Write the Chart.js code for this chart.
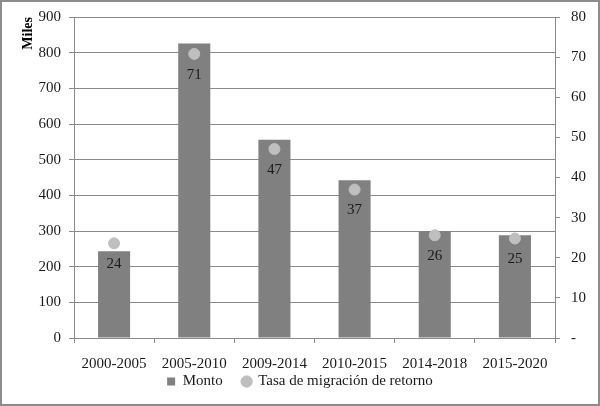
<!DOCTYPE html>
<html>
<head>
  <title>Monto y tasa de migración de retorno</title>
  <script src="https://cdn.jsdelivr.net/npm/chart.js"></script>
  <style>
    body { margin: 0; background: #fff; }
    .wrap { width: 600px; height: 406px; position: relative; }
  </style>
</head>
<body>
<div class="wrap">
  <canvas id="chart" width="600" height="406"></canvas>
</div>

<script>
  // values
  const periods = ['2000-2005', '2005-2010', '2009-2014', '2010-2015', '2014-2018', '2015-2020'];
  const monto = [243, 826, 556, 442, 300, 288];          // miles
  const tasa = [23.6, 70.8, 47.1, 37.0, 25.6, 24.8];      // tasa de migración de retorno
  const leftTicks = [0, 100, 200, 300, 400, 500, 600, 700, 800, 900];
  const rightTicks = [0, 10, 20, 30, 40, 50, 60, 70, 80];

  const serif = 'Liberation Serif, Times New Roman, serif';
  const gridGrey = '#8a8a8a';
  const textCol = '#1a1a1a';

  // white background and grey frame
  const framePlugin = {
    id: 'frame',
    beforeDraw(chart) {
      const ctx = chart.ctx;
      ctx.save();
      ctx.fillStyle = '#fff';
      ctx.fillRect(0, 0, chart.width, chart.height);
      ctx.restore();
    },
    afterDraw(chart) {
      const ctx = chart.ctx;
      ctx.save();
      ctx.strokeStyle = '#8c8c8c';
      ctx.lineWidth = 2;
      ctx.strokeRect(1, 1, chart.width - 2, chart.height - 2);
      ctx.restore();
    }
  };

  // numbers under each point
  const pointLabels = {
    id: 'pointLabels',
    afterDatasetsDraw(chart) {
      const ctx = chart.ctx;
      const meta = chart.getDatasetMeta(1);
      ctx.save();
      ctx.font = '15px ' + serif;
      ctx.fillStyle = textCol;
      ctx.textAlign = 'center';
      ctx.textBaseline = 'middle';
      meta.data.forEach((pt, i) => {
        ctx.fillText(Math.round(tasa[i]), pt.x, pt.y + 21);
      });
      ctx.restore();
    }
  };

  new Chart(document.getElementById('chart'), {
    type: 'bar',
    data: {
      labels: periods,
      datasets: [
        {
          label: 'Monto',
          data: monto,
          backgroundColor: '#808080',
          barPercentage: 0.4,
          categoryPercentage: 1.0,
          yAxisID: 'y',
          pointStyle: 'rect',
          order: 2
        },
        {
          type: 'line',
          label: 'Tasa de migración de retorno',
          data: tasa,
          showLine: false,
          pointRadius: 5.5,
          pointHoverRadius: 5.5,
          pointBackgroundColor: '#bfbfbf',
          pointBorderColor: '#bfbfbf',
          backgroundColor: '#bfbfbf',
          borderColor: '#bfbfbf',
          pointStyle: 'circle',
          yAxisID: 'y1',
          order: 1
        }
      ]
    },
    options: {
      responsive: false,
      animation: false,
      layout: { padding: { top: 0, left: 0, right: 0, bottom: 7 } },
      plugins: {
        legend: {
          position: 'bottom',
          labels: {
            usePointStyle: true,
            boxWidth: 8,
            boxHeight: 8,
            padding: 20,
            color: textCol,
            font: { family: serif, size: 15 },
            sort: (a, b) => a.datasetIndex - b.datasetIndex
          }
        },
        tooltip: { enabled: false }
      },
      scales: {
        x: {
          offset: true,
          // keep the box short so the legend sits close, but don't clip the labels
          afterFit(scale) { scale.height = 16; },
          afterUpdate(scale) { scale._computeLabelArea = () => undefined; },
          grid: {
            offset: true,
            drawOnChartArea: false,
            drawTicks: true,
            tickLength: 5,
            color: gridGrey
          },
          border: { color: gridGrey },
          ticks: {
            padding: 12,
            color: textCol,
            font: { family: serif, size: 15 },
            maxRotation: 0
          }
        },
        y: {
          position: 'left',
          min: 0,
          max: 900,
          afterBuildTicks(scale) {
            scale.ticks = leftTicks.map(v => ({ value: v }));
          },
          afterFit(scale) { scale.width = 74; scale.paddingTop = 17; },
          grid: { color: gridGrey, tickLength: 5, lineWidth: 1 },
          border: { color: gridGrey },
          ticks: {
            padding: 8,
            color: textCol,
            font: { family: serif, size: 15 }
          },
          title: {
            display: true,
            text: 'Miles',
            align: 'end',
            color: '#000',
            padding: { top: 20, bottom: 0 },
            font: { family: serif, size: 14, weight: 'bold' }
          }
        },
        y1: {
          position: 'right',
          min: 0,
          max: 80,
          afterBuildTicks(scale) {
            scale.ticks = rightTicks.map(v => ({ value: v }));
          },
          afterFit(scale) { scale.width = 45; scale.paddingTop = 17; },
          grid: { drawOnChartArea: false, tickLength: 5, color: gridGrey },
          border: { color: gridGrey },
          ticks: {
            padding: 11,
            color: textCol,
            font: { family: serif, size: 15 },
            callback: v => (v === 0 ? '-' : v)
          }
        }
      }
    },
    plugins: [framePlugin, pointLabels]
  });
</script>
</body>
</html>
